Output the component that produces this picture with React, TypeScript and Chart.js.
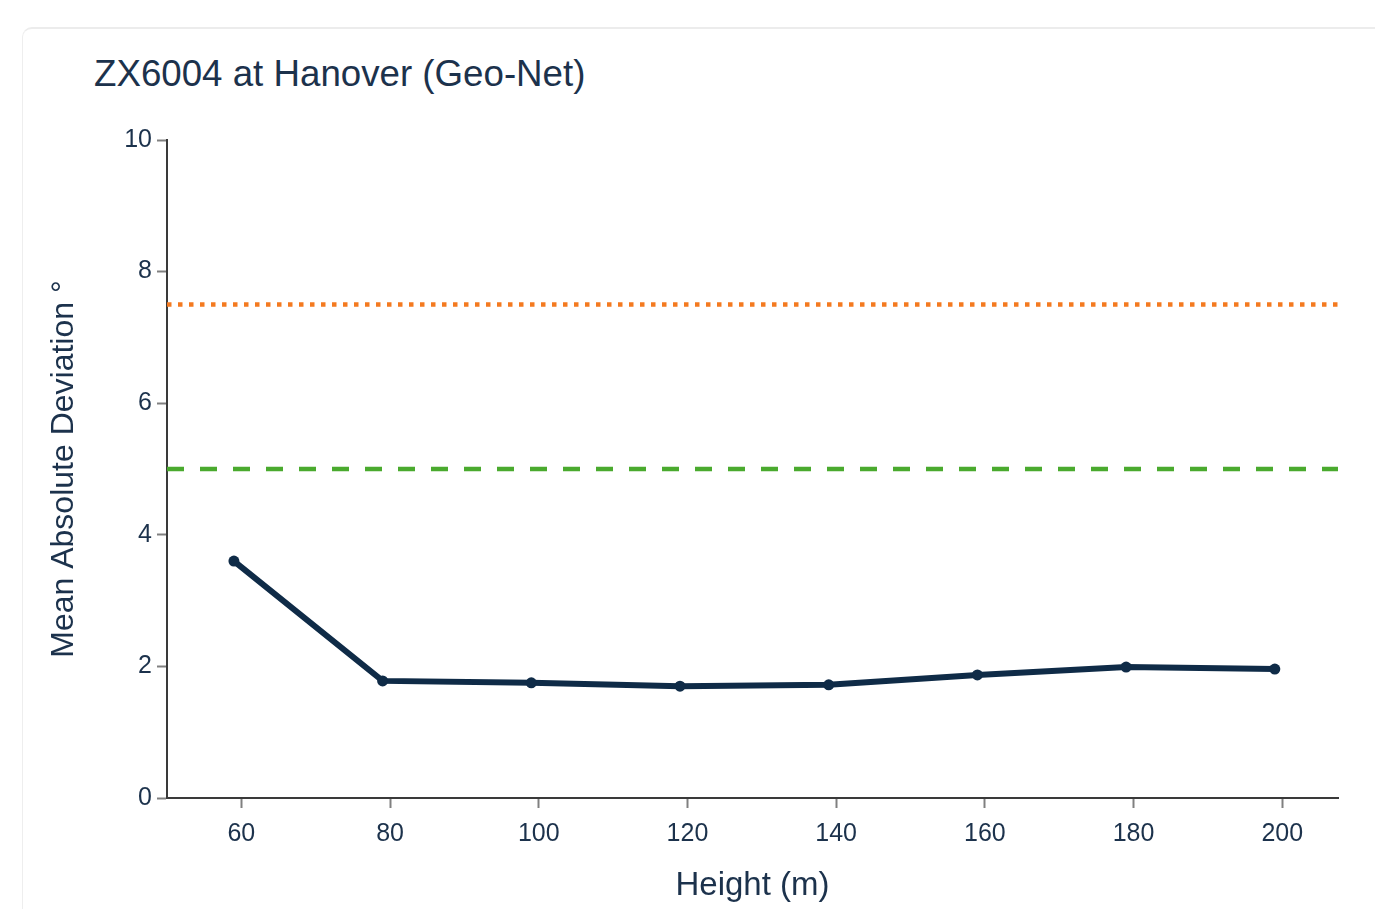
import React, { useEffect, useRef } from "react";
import { Chart, registerables } from "chart.js";

Chart.register(...registerables);

// ---- data ----
const heights = [59, 79, 99, 119, 139, 159, 179, 199];
const meanAbsDeviation = [3.6, 1.78, 1.75, 1.7, 1.72, 1.87, 1.99, 1.96];
const upperThreshold = [7.5, 7.5];
const lowerThreshold = [5, 5];
const xTicks = [60, 80, 100, 120, 140, 160, 180, 200];
const yTicks = [0, 2, 4, 6, 8, 10];
const xRange = [50, 207.5];
const yRange = [0, 10];

const titleText = "ZX6004 at Hanover (Geo-Net)";
const xTitle = "Height (m)";
const yTitle = "Mean Absolute Deviation °";

const TEXT = "#1c324c";
const FONT = "'Liberation Sans', Arial, sans-serif";

export default function App() {
  const canvasRef = useRef<HTMLCanvasElement | null>(null);

  useEffect(() => {
    const canvas = canvasRef.current;
    if (!canvas) return;
    const chart = new Chart(canvas, {
      type: "line",
      data: {
        datasets: [
          {
            label: "Upper threshold",
            data: xRange.map((x, i) => ({ x, y: upperThreshold[i] })),
            borderColor: "#f47a20",
            borderWidth: 4.5,
            borderDash: [4.5, 6.5],
            borderCapStyle: "butt",
            pointRadius: 0,
            fill: false,
          },
          {
            label: "Lower threshold",
            data: xRange.map((x, i) => ({ x, y: lowerThreshold[i] })),
            borderColor: "#4aaa2e",
            borderWidth: 4.5,
            borderDash: [17, 16],
            borderCapStyle: "butt",
            pointRadius: 0,
            fill: false,
          },
          {
            label: "MAD",
            data: heights.map((x, i) => ({ x, y: meanAbsDeviation[i] })),
            borderColor: "#0f2b47",
            backgroundColor: "#0f2b47",
            borderWidth: 6,
            pointRadius: 5.5,
            pointBorderWidth: 0,
            pointBackgroundColor: "#0f2b47",
            tension: 0,
            fill: false,
          },
        ],
      },
      options: {
        animation: false,
        responsive: false,
        devicePixelRatio: 1,
        events: [],
        layout: { padding: { top: 140, left: 40, right: 37, bottom: 0 } },
        plugins: {
          legend: { display: false },
          tooltip: { enabled: false },
          title: { display: false },
        },
        scales: {
          x: {
            type: "linear",
            min: xRange[0],
            max: xRange[1],
            afterBuildTicks: (scale: any) => {
              scale.ticks = xTicks.map((v) => ({ value: v }));
            },
            afterFit: (scale: any) => {
              scale.height = 111;
            },
            grid: {
              drawOnChartArea: false,
              drawTicks: true,
              tickLength: 10,
              tickColor: "#808080",
              tickWidth: 2,
            },
            border: { display: true, color: "#3a3a3a", width: 2 },
            ticks: {
              color: TEXT,
              padding: 11,
              font: { family: FONT, size: 25 },
              maxRotation: 0,
              autoSkip: false,
            },
            title: {
              display: true,
              text: xTitle,
              color: TEXT,
              font: { family: FONT, size: 33 },
              padding: { top: 0, bottom: 3.5 },
            },
          },
          y: {
            type: "linear",
            min: yRange[0],
            max: yRange[1],
            afterBuildTicks: (scale: any) => {
              scale.ticks = yTicks.map((v) => ({ value: v }));
            },
            afterFit: (scale: any) => {
              scale.width = 127;
            },
            grid: {
              drawOnChartArea: false,
              drawTicks: true,
              tickLength: 10,
              tickColor: "#808080",
              tickWidth: 2,
            },
            border: { display: true, color: "#3a3a3a", width: 2 },
            ticks: {
              color: TEXT,
              padding: 5,
              font: { family: FONT, size: 25 },
            },
            title: {
              display: true,
              text: yTitle,
              color: TEXT,
              font: { family: FONT, size: 32 },
              padding: { top: 4.8, bottom: 0 },
            },
          },
        },
      },
    } as any);
    return () => chart.destroy();
  }, []);

  return (
    <div
      style={{
        position: "absolute",
        left: 0,
        top: 0,
        width: 1375,
        height: 909,
        overflow: "hidden",
        background: "#ffffff",
      }}
    >
      <div
        style={{
          position: "absolute",
          left: 22,
          top: 27,
          width: 1420,
          height: 1000,
          borderRadius: 10,
          background: "#ffffff",
          border: "1px solid #eeeeee",
          borderTop: "2px solid #ececec",
          boxSizing: "border-box",
        }}
      />
      <div
        style={{
          position: "absolute",
          left: 94,
          top: 55.8,
          fontFamily: FONT,
          fontSize: 36.7,
          lineHeight: "35px",
          color: TEXT,
          whiteSpace: "nowrap",
        }}
      >
        {titleText}
      </div>
      <canvas
        ref={canvasRef}
        width={1375}
        height={909}
        style={{ position: "absolute", left: 0, top: 0, width: 1375, height: 909 }}
      />
    </div>
  );
}
